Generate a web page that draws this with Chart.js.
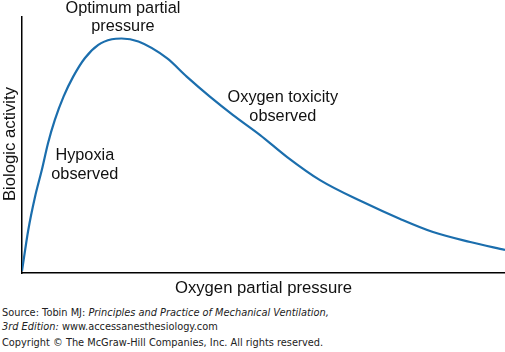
<!DOCTYPE html>
<html>
<head>
<meta charset="utf-8">
<script src="https://cdn.jsdelivr.net/npm/chart.js@4"></script>
<style>
  html, body { margin: 0; padding: 0; background: #fff; }
  #wrap { position: relative; width: 505px; height: 352px; overflow: hidden; }
  #c { position: absolute; left: 0; top: 0; }
  .src { position: absolute; left: 2px; font-family: "DejaVu Sans", Verdana, sans-serif; font-size: 9.8px; color: #222; white-space: nowrap; }
</style>
</head>
<body>
<div id="wrap">
  <canvas id="c" width="505" height="300"></canvas>
  <div class="src" style="top:307px">Source: Tobin MJ: <i>Principles and Practice of Mechanical Ventilation,</i></div>
  <div class="src" style="top:321px"><i>3rd Edition:</i> www.accessanesthesiology.com</div>
  <div class="src" style="top:337px">Copyright © The McGraw-Hill Companies, Inc. All rights reserved.</div>
</div>
<script>
// Oxygen partial pressure (arbitrary units, 0-100)
const oxygenPressure = [0, 1.3, 2.7, 4.1, 5.4, 6.8, 8.6, 10.6, 13.0, 15.8, 18.6, 20.6, 24.1, 30.0, 34.1, 38.9, 43.7, 49.3, 54.9, 61.7, 70.6, 78.3, 85.1, 92.8, 100];
// Biologic activity (arbitrary units, 0-100)
const biologicActivity = [0.8, 16.8, 29.8, 40.2, 50.8, 59.8, 68.9, 76.7, 83.9, 89.1, 91.3, 91.6, 90.4, 83.9, 76.7, 68.9, 61.7, 53.9, 45.3, 36.3, 27.7, 21.1, 16.0, 12.1, 9.0];

const xTitle = "Oxygen partial pressure";
const yTitle = "Biologic activity";
// label anchor (data units): centre x, baseline y of first line
const annotations = [
  { lines: ["Optimum partial", "pressure"], x: 20.9, y: 101.7 },
  { lines: ["Hypoxia", "observed"], x: 13.0, y: 44.1 },
  { lines: ["Oxygen toxicity", "observed"], x: 54.0, y: 66.8 }
];

const FONT = '"Liberation Sans", Arial, Helvetica, sans-serif';

const textPlugin = {
  id: 'texts',
  afterDraw(chart) {
    const ctx = chart.ctx;
    const xs = chart.scales.x, ys = chart.scales.y;
    ctx.save();
    ctx.fillStyle = '#111';
    ctx.textAlign = 'center';
    ctx.textBaseline = 'alphabetic';
    ctx.font = '16.3px ' + FONT;
    annotations.forEach(a => {
      const px = xs.getPixelForValue(a.x);
      const py = ys.getPixelForValue(a.y);
      a.lines.forEach((l, i) => ctx.fillText(l, px, py + i * 18.8));
    });
    ctx.font = '16.7px ' + FONT;
    const ca = chart.chartArea;
    ctx.fillText(xTitle, (ca.left + ca.right) / 2, 293);
    ctx.translate(15, (ca.top + ca.bottom) / 2 - 1);
    ctx.rotate(-Math.PI / 2);
    ctx.fillText(yTitle, 0, 0);
    ctx.restore();
  }
};

function draw() {
  new Chart(document.getElementById('c'), {
    type: 'line',
    data: {
      datasets: [{
        data: oxygenPressure.map((x, i) => ({ x, y: biologicActivity[i] })),
        borderColor: '#1b6ead',
        borderWidth: 2.2,
        pointRadius: 0,
        fill: false,
        cubicInterpolationMode: 'monotone'
      }]
    },
    options: {
      responsive: false,
      animation: false,
      layout: { padding: { left: 22, top: 17, right: 0, bottom: 27 } },
      plugins: { legend: { display: false }, tooltip: { enabled: false } },
      scales: {
        x: {
          type: 'linear', min: 0, max: 100,
          ticks: { display: false },
          grid: { display: true, drawOnChartArea: false, drawTicks: false },
          border: { display: true, color: '#000', width: 1.5 }
        },
        y: {
          type: 'linear', min: 0, max: 100,
          ticks: { display: false },
          grid: { display: true, drawOnChartArea: false, drawTicks: false },
          border: { display: true, color: '#000', width: 1.5 }
        }
      }
    },
    plugins: [textPlugin]
  });
}

Promise.all([
  document.fonts.load('16px "Liberation Sans"')
]).then(draw, draw);
</script>
</body>
</html>
